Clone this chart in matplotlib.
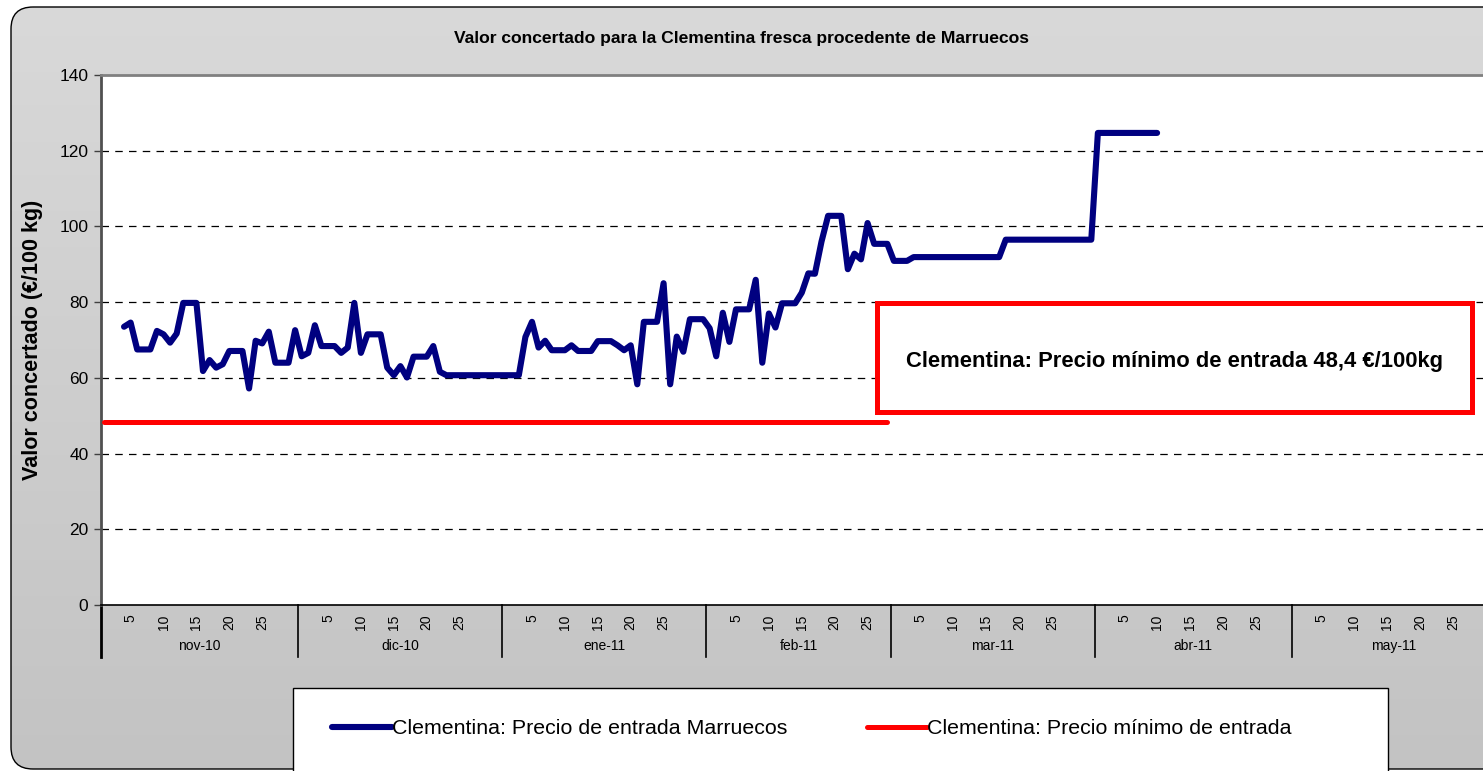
import numpy as np
import pandas as pd
import matplotlib
matplotlib.use("Agg")
import matplotlib.pyplot as plt
from matplotlib.patches import FancyBboxPatch, Rectangle
from matplotlib.lines import Line2D
from matplotlib.colors import LinearSegmentedColormap
import matplotlib.transforms as mtransforms

plt.rcParams["font.family"] = ["Liberation Sans", "DejaVu Sans"]

# Precio de entrada Marruecos (vertices of the series)
price_dates = [
    "2010-11-04", "2010-11-05", "2010-11-06", "2010-11-08", "2010-11-09", "2010-11-10",
    "2010-11-11", "2010-11-12", "2010-11-13", "2010-11-15", "2010-11-16", "2010-11-17",
    "2010-11-18", "2010-11-19", "2010-11-20", "2010-11-22", "2010-11-23", "2010-11-24",
    "2010-11-25", "2010-11-26", "2010-11-27", "2010-11-29", "2010-11-30",
    "2010-12-01", "2010-12-02", "2010-12-03", "2010-12-04", "2010-12-06", "2010-12-07",
    "2010-12-08", "2010-12-09", "2010-12-10", "2010-12-11", "2010-12-13", "2010-12-14",
    "2010-12-15", "2010-12-16", "2010-12-17", "2010-12-18", "2010-12-20", "2010-12-21",
    "2010-12-22", "2010-12-23",
    "2011-01-03", "2011-01-04", "2011-01-05", "2011-01-06", "2011-01-07", "2011-01-08",
    "2011-01-10", "2011-01-11", "2011-01-12", "2011-01-14", "2011-01-15", "2011-01-17",
    "2011-01-18", "2011-01-19", "2011-01-20", "2011-01-21", "2011-01-22", "2011-01-24",
    "2011-01-25", "2011-01-26", "2011-01-27", "2011-01-28", "2011-01-29", "2011-01-31",
    "2011-02-01", "2011-02-02", "2011-02-03", "2011-02-04", "2011-02-05", "2011-02-07",
    "2011-02-08", "2011-02-09", "2011-02-10", "2011-02-11", "2011-02-12", "2011-02-14",
    "2011-02-15", "2011-02-16", "2011-02-17", "2011-02-18", "2011-02-19", "2011-02-21",
    "2011-02-22", "2011-02-23", "2011-02-24", "2011-02-25", "2011-02-26", "2011-02-28",
    "2011-03-01", "2011-03-03", "2011-03-04", "2011-03-17", "2011-03-18", "2011-03-31",
    "2011-04-01", "2011-04-10",
]
price_values = [
    73.5, 74.6, 67.5, 67.5, 72.4, 71.5,
    69.3, 71.7, 79.8, 79.8, 61.8, 64.7,
    62.7, 63.6, 67.1, 67.1, 57.2, 69.8,
    69.1, 72.2, 64.0, 64.0, 72.6,
    65.7, 66.6, 73.9, 68.4, 68.4, 66.6,
    68.0, 79.8, 66.6, 71.5, 71.5, 62.7,
    60.7, 63.1, 60.1, 65.6, 65.6, 68.4,
    61.6, 60.7,
    60.7, 70.8, 74.8, 68.0, 69.8, 67.3,
    67.3, 68.6, 67.1, 67.1, 69.7, 69.7,
    68.6, 67.3, 68.6, 58.3, 74.8, 74.8,
    85.0, 58.3, 70.9, 66.9, 75.5, 75.5,
    73.1, 65.7, 77.2, 69.5, 78.1, 78.1,
    85.9, 64.0, 77.0, 73.3, 79.7, 79.7,
    82.5, 87.6, 87.5, 96.0, 102.8, 102.8,
    88.7, 92.8, 91.3, 100.9, 95.4, 95.4,
    90.9, 90.9, 91.9, 91.9, 96.5, 96.5,
    124.7, 124.7,
]

# Precio minimo de entrada
min_price = 48.4
min_start, min_end = "2010-11-01", "2011-02-28"

axis_start, axis_end = "2010-11-01", "2011-05-31"
month_labels = ["nov-10", "dic-10", "ene-11", "feb-11", "mar-11", "abr-11", "may-11"]
day_ticks = [5, 10, 15, 20, 25]
y_ticks = [0, 20, 40, 60, 80, 100, 120, 140]

title = "Valor concertado para la Clementina fresca procedente de Marruecos"
ylabel = "Valor concertado (€/100 kg)"
label_price = "Clementina: Precio de entrada Marruecos"
label_min = "Clementina: Precio mínimo de entrada"
box_text = "Clementina: Precio mínimo de entrada 48,4 €/100kg"

W, H = 1483, 771
fig = plt.figure(figsize=(W / 100, H / 100), dpi=100)
fig.patch.set_facecolor("white")

def fx(px):
    return px / W

def fy(py):
    return 1 - py / H

# chart area background (rounded, gradient)
bg = fig.add_axes([0, 0, 1, 1], zorder=-5)
bg.set_xlim(0, W)
bg.set_ylim(H, 0)
bg.axis("off")
grad = np.linspace(0, 1, 256).reshape(-1, 1)
cmap = LinearSegmentedColormap.from_list("bg", ["#d9d9d9", "#c3c3c3"])
im = bg.imshow(grad, extent=[0, W, H, 0], aspect="auto", cmap=cmap)
frame = FancyBboxPatch((11, 7), W + 40, H - 9, boxstyle="round,pad=0,rounding_size=22",
                       facecolor="none", edgecolor="black", linewidth=1.0)
bg.add_patch(frame)
im.set_clip_path(frame)

# main axes
t0 = pd.Timestamp(axis_start)
n_days = (pd.Timestamp(axis_end) - t0).days + 1
px_day = 6.58
left, top, bottom = 101, 75, 605
ax = fig.add_axes([fx(left), fy(bottom), n_days * px_day / W, (bottom - top) / H])
ax.set_facecolor("white")

xp = (pd.to_datetime(price_dates) - t0).days.values + 0.5
ax.plot(xp, price_values, color="#000080", linewidth=4.4, solid_joinstyle="round",
        solid_capstyle="round", label=label_price, zorder=4)
min_days = pd.date_range(min_start, min_end, freq="D")
xm = (min_days - t0).days.values + 0.5
ax.plot(xm, [min_price] * len(xm), color="#ff0000", linewidth=3.6,
        solid_capstyle="round", label=label_min, zorder=3)

ax.set_xlim(0, n_days)
ax.set_ylim(0, 140)
ax.set_yticks(y_ticks)
ax.tick_params(axis="y", labelsize=12.5, length=5, width=1, direction="out", color="#404040", pad=4)
for g in y_ticks[1:-1]:
    ax.axhline(g, color="black", linewidth=0.9, linestyle=(0, (6, 5)), zorder=1)
ax.spines["left"].set_color("#505050")
ax.spines["left"].set_linewidth(2)
ax.spines["top"].set_color("#808080")
ax.spines["top"].set_linewidth(2)
ax.spines["bottom"].set_color("black")
ax.spines["bottom"].set_linewidth(1.2)
ax.spines["right"].set_visible(False)

# category axis: day ticks and month groups
months = pd.date_range(axis_start, axis_end, freq="MS")
xt, xl = [], []
for m in months:
    off = (m - t0).days
    for d in day_ticks:
        xt.append(off + d - 1 + 0.5)
        xl.append(str(d))
ax.set_xticks(xt)
ax.set_xticklabels(xl, rotation=90, fontsize=10)
ax.tick_params(axis="x", length=0, pad=7)

trans = mtransforms.blended_transform_factory(ax.transData, ax.transAxes)
sep_h = 52 / (bottom - top)
bounds = [(m - t0).days for m in months] + [n_days]
for i, lab in enumerate(month_labels):
    ax.add_line(Line2D([bounds[i], bounds[i]], [0, -sep_h], transform=trans,
                       color="black", linewidth=1.2 if i else 2, clip_on=False))
    ax.text((bounds[i] + bounds[i + 1]) / 2, -41 / (bottom - top), lab, transform=trans,
            ha="center", va="center", fontsize=10)
ax.set_ylabel(ylabel, fontsize=15.5, fontweight="bold", labelpad=12)

fig.text(fx(742), fy(38), title, ha="center", va="center", fontsize=12.6, fontweight="bold")

# text box with the minimum entry price
fig.patches.append(Rectangle((fx(877), fy(412)), fx(1472) - fx(877), fy(303) - fy(412),
                             transform=fig.transFigure, facecolor="white",
                             edgecolor="#ff0000", linewidth=3.6, zorder=10))
fig.text(fx(1175), fy(362), box_text, ha="center", va="center", fontsize=15.8,
         fontweight="bold", zorder=11)

# legend
fig.patches.append(Rectangle((fx(293), fy(790)), fx(1388) - fx(293), fy(688) - fy(790),
                             transform=fig.transFigure, facecolor="white",
                             edgecolor="black", linewidth=1.0, zorder=1))
fs = 15.4
fig.legend(loc="center left", bbox_to_anchor=(fx(332), fy(729)), ncol=2, frameon=False,
           fontsize=fs, handlelength=60 / (fs * 100 / 72), handletextpad=0.0,
           columnspacing=80 / (fs * 100 / 72), borderpad=0, borderaxespad=0)

fig.savefig("out.png", dpi=100)
